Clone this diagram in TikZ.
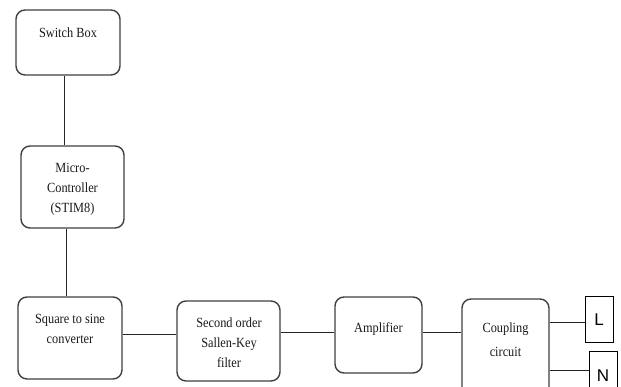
\documentclass[tikz,border=0pt]{standalone}
\usepackage{fontspec}
\setmainfont{Liberation Serif}[FakeStretch=0.88]
\newfontfamily\lnfont{Liberation Sans}
\begin{document}
\begin{tikzpicture}[x=1pt,y=-1pt,
  blk/.style={draw=black!75, line width=1.4pt, rounded corners=9pt, fill=white, inner sep=0pt},
  sqb/.style={draw=black, line width=1pt, fill=white, inner sep=0pt},
  txt/.style={font=\fontsize{14}{20}\selectfont, align=center, inner sep=0pt, text=black!90},
  wire/.style={draw=black!85, line width=1pt}]
\useasboundingbox (0,0) rectangle (621,387);
\clip (0,0) rectangle (621,387);
% boxes
\node[blk, minimum width=104pt, minimum height=65pt] (sw) at (68,42.5) {};
\node[blk, minimum width=103pt, minimum height=82pt] (mc) at (72.5,187) {};
\node[blk, minimum width=104pt, minimum height=82pt] (sq) at (70,338) {};
\node[blk, minimum width=103pt, minimum height=80pt] (sk) at (228.5,341) {};
\node[blk, minimum width=87pt, minimum height=76pt] (amp) at (378.5,335) {};
\node[blk, minimum width=87pt, minimum height=101pt] (cp) at (505.5,349.5) {};
\node[sqb, minimum width=28pt, minimum height=45pt] (L) at (599,319.5) {};
\node[sqb, minimum width=28pt, minimum height=49pt] (N) at (603,375.5) {};
% connectors
\draw[wire] ([xshift=-4pt]sw.south) -- ([xshift=-4pt]sw.south |- mc.north);
\draw[wire] ([xshift=-6.5pt]mc.south) -- ([xshift=-6.5pt]mc.south |- sq.north);
\draw[wire] ([yshift=4pt]sq.east) -- ([yshift=4pt]sq.east -| sk.west);
\draw[wire] ([yshift=9pt]sk.east) -- ([yshift=9pt]sk.east -| amp.west);
\draw[wire] ([yshift=3pt]amp.east) -- ([yshift=3pt]amp.east -| cp.west);
\draw[wire] ([yshift=27.5pt]cp.east) -- ([yshift=27.5pt]cp.east -| L.west);
\draw[wire] ([yshift=-20.5pt]cp.east) -- ([yshift=-20.5pt]cp.east -| N.west);
% texts
\node[txt] (tsw) at (68,33) {Switch Box};
\node[txt] (tmc) at (72.5,189) {Micro-\\Controller\\(STIM8)};
\node[txt] (tsq) at (70,329) {Square to sine\\converter};
\node[txt] (tsk) at (229,343) {Second order\\Sallen-Key\\filter};
\node[txt] (tamp) at (378.5,329) {Amplifier};
\node[txt, font=\fontsize{14}{24}\selectfont] (tcp) at (505.5,340) {Coupling\\circuit};
\node[inner sep=0pt, font=\lnfont\fontsize{17}{20}\selectfont] (tL) at (L) {L};
\node[inner sep=0pt, font=\lnfont\fontsize{17}{20}\selectfont] (tN) at (N) {N};
\end{tikzpicture}
\end{document}
